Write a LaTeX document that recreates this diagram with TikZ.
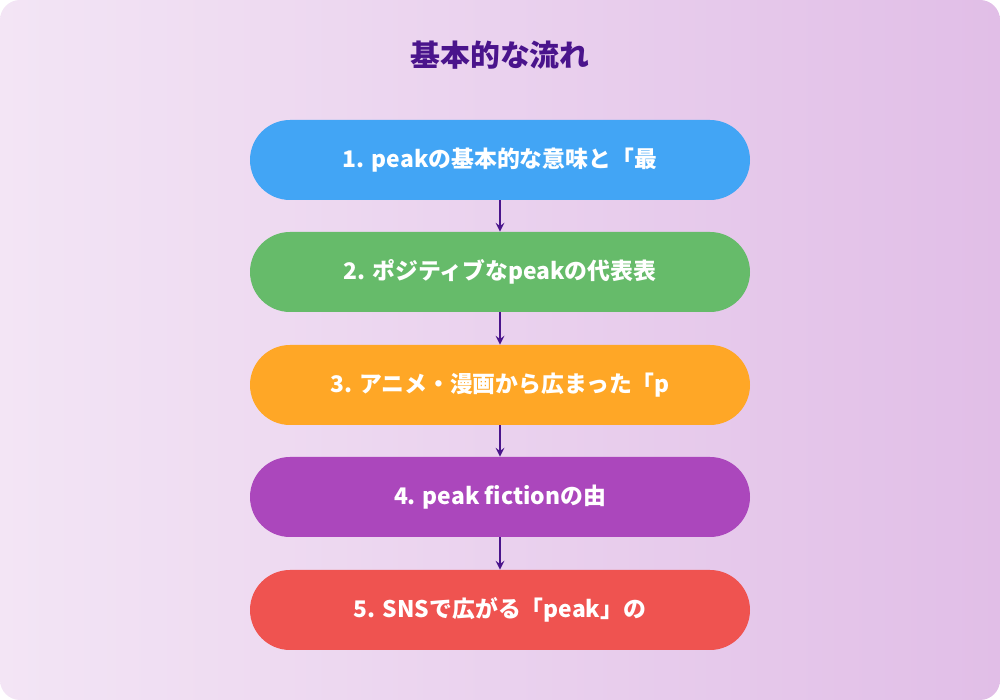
\documentclass[tikz,border=0pt]{standalone}
\usepackage{fontspec}
\setmainfont{Noto Sans CJK JP}
\usetikzlibrary{positioning}
\definecolor{bgA}{HTML}{F3E5F5}
\definecolor{bgB}{HTML}{E1BEE7}
\definecolor{titlec}{HTML}{4A148C}
\definecolor{cA}{HTML}{42A5F5}
\definecolor{cB}{HTML}{66BB6A}
\definecolor{cC}{HTML}{FFA726}
\definecolor{cD}{HTML}{AB47BC}
\definecolor{cE}{HTML}{EF5350}
\tikzset{
  stepbox/.style={rectangle, rounded corners=0.8cm, minimum width=10cm, minimum height=1.6cm,
    text=white, font=\fontsize{13}{15}\selectfont\bfseries},
  flow/.style={->, >=stealth, draw=titlec, line width=1.2pt}
}
\begin{document}
\begin{tikzpicture}
\useasboundingbox (0,0) rectangle (20,14);
\shade[rounded corners=0.4cm, left color=bgA, right color=bgB] (0,0) rectangle (20,14);
\node[text=titlec, font=\fontsize{17}{20}\selectfont\bfseries] (title) at (10,12.9) {基本的な流れ};

\node[stepbox, fill=cA] (s1) at (10,10.8) {1. peakの基本的な意味と「最};
\node[stepbox, fill=cB] (s2) at (10,8.56) {2. ポジティブなpeakの代表表};
\node[stepbox, fill=cC] (s3) at (10,6.3) {3. アニメ・漫画から広まった「p};
\node[stepbox, fill=cD] (s4) at (10,4.06) {4. peak fictionの由};
\node[stepbox, fill=cE] (s5) at (10,1.8) {5. SNSで広がる「peak」の};

\draw[flow] (s1) -- (s2);
\draw[flow] (s2) -- (s3);
\draw[flow] (s3) -- (s4);
\draw[flow] (s4) -- (s5);
\end{tikzpicture}
\end{document}
